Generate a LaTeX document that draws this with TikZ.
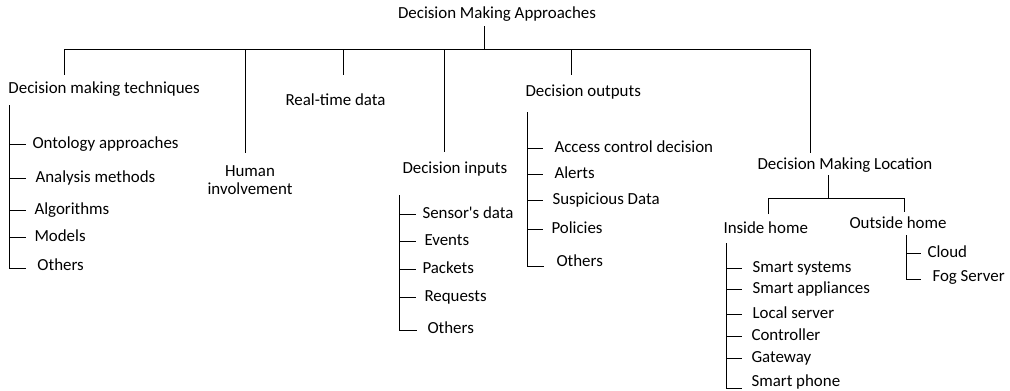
\documentclass[tikz,border=0pt]{standalone}
\usepackage{fontspec}
\setmainfont{Carlito}
\begin{document}
\begin{tikzpicture}[x=1pt,y=-1pt,line width=1pt,
  lbl/.style={inner sep=0pt,anchor=west,text height=0.95em,text depth=0pt,font=\fontsize{16.9}{18}\selectfont},
  ctr/.style={lbl,anchor=center},
  multi/.style={inner sep=0pt,anchor=base,align=center,font=\fontsize{16.9}{17.5}\selectfont}]
\useasboundingbox (0,0) rectangle (1010,391);
% root and bus
\node[ctr] (root) at (497,14) {Decision Making Approaches};
\coordinate (rtop) at (484,26);
\coordinate (bus) at (484,49);
\coordinate (busL) at (64,49);
\coordinate (busR) at (810,49);
\draw (rtop) -- (bus);
\draw (busL) -- (busR);
% first level
\node[lbl] (tech) at (8,89) {Decision making techniques};
\node[multi] (human) at (250,194) {Human\\involvement};
\node[lbl] (rt) at (285,101) {Real-time data};
\node[lbl] (inp) at (402,169) {Decision inputs};
\node[lbl] (outp) at (525,92) {Decision outputs};
\node[lbl] (loc) at (757,165) {Decision Making Location};
\coordinate (d1) at (64,75);
\coordinate (d2) at (245,153);
\coordinate (d3) at (343,75);
\coordinate (d4) at (444,152);
\coordinate (d5) at (571,75);
\coordinate (d6) at (810,153);
\foreach \d in {d1,d2,d3,d4,d5,d6} \draw (\d |- bus) -- (\d);
% techniques
\coordinate (ts) at (9,105);
\coordinate (te) at (9,268);
\draw (ts) -- (te) -- ++(17,0);
\node[lbl] (t1) at (32,144) {Ontology approaches};
\node[lbl] (t2) at (35,178) {Analysis methods};
\node[lbl] (t3) at (34,210) {Algorithms};
\node[lbl] (t4) at (34,237) {Models};
\node[lbl] (t5) at (37,266) {Others};
\foreach \t in {t1,t2,t3,t4} \draw (\t.west -| ts) -- ++(17,0);
% inputs
\coordinate (is) at (399,195);
\coordinate (ie) at (399,330);
\draw (is) -- (ie) -- ++(18,0);
\node[lbl] (i1) at (422,214) {Sensor\textquotesingle s data};
\node[lbl] (i2) at (424,241) {Events};
\node[lbl] (i3) at (422,269) {Packets};
\node[lbl] (i4) at (424,297) {Requests};
\node[lbl] (i5) at (427,329) {Others};
\foreach \t in {i1,i2,i3,i4} \draw (\t.west -| is) -- ++(17,0);
% outputs
\coordinate (os) at (527,112);
\coordinate (oe) at (527,266);
\draw (os) -- (oe) -- ++(17,0);
\node[lbl] (o1) at (554,148) {Access control decision};
\node[lbl] (o2) at (554,174) {Alerts};
\node[lbl] (o3) at (552,200) {Suspicious Data};
\node[lbl] (o4) at (551,229) {Policies};
\node[lbl] (o5) at (556,262) {Others};
\foreach \t in {o1,o2,o3,o4} \draw (\t.west -| os) -- ++(16,0);
% location
\node[lbl] (inh) at (723,229) {Inside home};
\node[lbl] (outh) at (849,224) {Outside home};
\coordinate (lt) at (828,175);
\coordinate (lb) at (828,198);
\coordinate (lL) at (768,198);
\coordinate (lR) at (904,198);
\coordinate (lLd) at (768,214);
\coordinate (lRd) at (904,212);
\draw (lt) -- (lb);
\draw (lLd) -- (lL) -- (lR) -- (lRd);
% inside home
\coordinate (hs) at (726,243);
\coordinate (he) at (726,388);
\draw (hs) -- (he) -- ++(16,0);
\node[lbl] (h1) at (752,268) {Smart systems};
\node[lbl] (h2) at (752,289) {Smart appliances};
\node[lbl] (h3) at (752,314) {Local server};
\node[lbl] (h4) at (751,336) {Controller};
\node[lbl] (h5) at (751,358) {Gateway};
\node[lbl] (h6) at (751,382) {Smart phone};
\foreach \t in {h1,h2,h3,h4,h5} \draw (\t.west -| hs) -- ++(16,0);
% outside home
\coordinate (ss) at (906,235);
\coordinate (se) at (906,279);
\draw (ss) -- (se) -- ++(15,0);
\node[lbl] (s1) at (927,253) {Cloud};
\node[lbl] (s2) at (932,277) {Fog Server};
\draw (s1.west -| ss) -- ++(15,0);
\end{tikzpicture}
\end{document}
